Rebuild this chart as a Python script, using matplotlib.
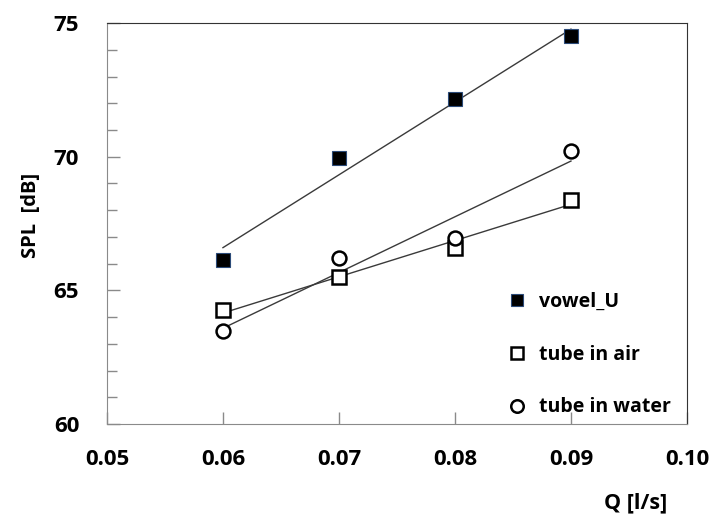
import numpy as np
import matplotlib.pyplot as plt

# flow rate Q [l/s] and measured SPL [dB]
q = [0.06, 0.07, 0.08, 0.09]
spl_vowel_u = [66.15, 69.95, 72.15, 74.5]
spl_tube_air = [64.25, 65.5, 66.6, 68.4]
spl_tube_water = [63.5, 66.2, 66.95, 70.2]

series = [
    ("vowel_U", spl_vowel_u, dict(marker="s", mfc="black", mec="#2b4a78", mew=0.8)),
    ("tube in air", spl_tube_air, dict(marker="s", mfc="white", mec="black", mew=1.8)),
    ("tube in water", spl_tube_water, dict(marker="o", mfc="white", mec="black", mew=1.8)),
]

plt.rcParams["font.family"] = ["Open Sans", "DejaVu Sans"]
plt.rcParams["font.weight"] = "bold"

fig = plt.figure(figsize=(7.13, 5.14), dpi=100)
ax = fig.add_axes([0.150, 0.175, 0.8135, 0.780])

xs = np.array(q)
for label, vals, style in series:
    # linear trend line between first and last flow rate
    k, b = np.polyfit(xs, vals, 1)
    ax.plot(xs[[0, -1]], k * xs[[0, -1]] + b, color="#3a3a3a", lw=1.0, zorder=2)
    ax.plot(xs, vals, ls="none", ms=10, label=label, zorder=3, **style)

ax.set_xlim(0.05, 0.10)
ax.set_ylim(60, 75)
ax.set_xticks([0.05, 0.06, 0.07, 0.08, 0.09, 0.10])
ax.set_xticklabels(["0.05", "0.06", "0.07", "0.08", "0.09", "0.10"])
ax.set_yticks([60, 65, 70, 75])
ax.set_yticks(np.arange(60, 75, 1), minor=True)

ax.tick_params(axis="x", direction="in", length=9, width=1, color="#8a8a8a",
               pad=18, labelsize=16)
ax.tick_params(axis="y", which="major", direction="in", length=9, width=1,
               color="#8a8a8a", pad=20, labelsize=16)
ax.tick_params(axis="y", which="minor", direction="in", length=7, width=1,
               color="#8a8a8a")

for side in ("left", "bottom"):
    ax.spines[side].set_color("#8a8a8a")
for side in ("top", "right"):
    ax.spines[side].set_color("#333333")

ax.set_ylabel("SPL  [dB]", fontsize=14.5, fontweight="bold")
ax.yaxis.set_label_coords(-0.113, 0.52)
ax.set_xlabel("Q [l/s]", fontsize=15.5, fontweight="bold")
ax.xaxis.set_label_coords(0.912, -0.17)

ax.legend(loc="lower left", bbox_to_anchor=(0.665, -0.027), frameon=False,
          fontsize=14, labelspacing=1.68, handlelength=0.7, handletextpad=0.8,
          markerscale=0.9)

fig.savefig("out.png", dpi=100)
